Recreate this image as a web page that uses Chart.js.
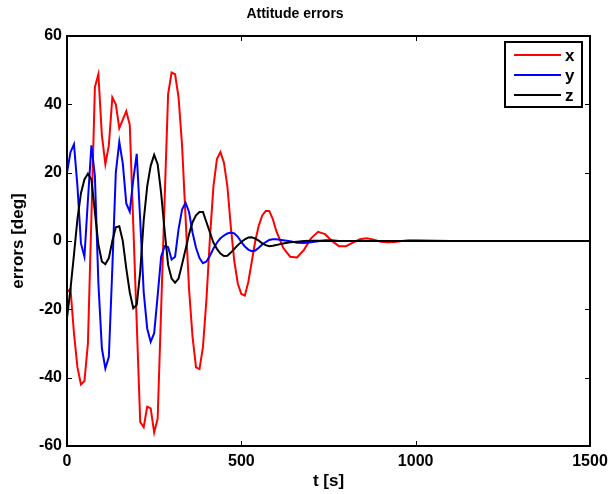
<!DOCTYPE html>
<html>
<head>
<meta charset="utf-8">
<title>Attitude errors</title>
<script src="https://cdn.jsdelivr.net/npm/chart.js@4/dist/chart.umd.min.js"></script>
<style>
  html, body { margin: 0; padding: 0; background: #fff; }
  canvas { display: block; }
</style>
</head>
<body>
<canvas id="chart" width="609" height="494"></canvas>
<script>
// Sample times [s]
const times = [
  0, 10, 20, 30, 40, 50, 60, 70, 80, 90,
  100, 110, 120, 130, 140, 150, 160, 170, 180, 190,
  200, 210, 220, 230, 240, 250, 260, 270, 280, 290,
  300, 310, 320, 330, 340, 350, 360, 370, 380, 390,
  400, 410, 420, 430, 440, 450, 460, 470, 480, 490,
  500, 510, 520, 530, 540, 550, 560, 570, 580, 590,
  600,
  620, 640, 660, 680, 700, 720, 740, 760, 780, 800,
  820, 840, 860, 880, 900, 920, 940, 960, 980, 1000,
  1100, 1200, 1300, 1400, 1500
];

// Attitude error about x [deg]
const errX = [
  -15, -14, -27, -37, -42, -41, -30, 7, 45, 48.8,
  31, 22.5, 28, 42, 40, 33, 35.5, 38, 34, 5,
  -24, -53, -54.5, -48.5, -49, -56, -52, -20, 12, 43,
  49.3, 48.8, 42, 28, 7, -14, -28, -37, -37.5, -31,
  -17, 1, 16, 24, 26, 23, 16, 4, -6, -12.5,
  -15.5, -16, -12, -6, 0, 4.5, 7.5, 8.8, 8.8, 6.5,
  3,
  -2, -4.6, -4.8, -2.5, 0.8, 2.7, 2, 0, -1.5, -1.5,
  -0.5, 0.5, 0.8, 0.4, -0.2, -0.4, -0.3, 0, 0.2, 0.2,
  0, 0, 0, 0, 0
];

// Attitude error about y [deg]
const errY = [
  20, 26, 28.3, 16, -0.7, -4.6, 12, 28, 19, -12.3,
  -31.4, -37.3, -34, -8, 20, 29, 22.7, 11, 8.6, 17.8,
  25.5, 6, -15, -25.6, -29.5, -27, -16, -4.6, -1.5, -1.8,
  -5.4, -4.6, 3.5, 9.2, 11.2, 8.5, 2.5, -2, -5, -6.5,
  -6, -4.3, -2.2, -0.5, 0.8, 1.6, 2.2, 2.5, 2.2, 1.2,
  -0.3, -1.6, -2.5, -3, -2.8, -2, -1, -0.3, 0.3, 0.5,
  0.5,
  0.2, -0.1, -0.5, -0.6, -0.4, -0.1, 0.2, 0.2, 0, 0,
  0, 0, 0, 0, 0, 0, 0, 0, 0, 0,
  0, 0, 0, 0, 0
];

// Attitude error about z [deg]
const errZ = [
  -22.5, -14, -4, 6.5, 14, 18, 19.7, 18, 8.5, -1,
  -6, -6.8, -5, 0, 4, 4.3, 0, -8, -15, -19.7,
  -18.7, -9, 6, 16, 22, 25.2, 22.5, 14, 3, -7,
  -11, -12.2, -11, -6.8, -2.5, 2, 5.5, 7.5, 8.5, 8.5,
  5.5, 2.5, -0.5, -2.3, -3.7, -4.4, -4.3, -3.4, -2.3, -1.2,
  -0.3, 0.5, 1, 1.1, 0.7, 0.1, -0.7, -1.2, -1.5, -1.4,
  -1.2,
  -0.7, -0.4, -0.2, 0, 0.1, 0.1, 0, 0, 0, 0,
  0, 0, 0, 0, 0, 0, 0, 0, 0, 0,
  0, 0, 0, 0, 0
];

const seriesNames = ['x', 'y', 'z'];
const seriesColors = ['#ff0000', '#0000ff', '#000000'];

const xTicks = [0, 500, 1000, 1500];
const yTicks = [-60, -40, -20, 0, 20, 40, 60];

const FONT = '"Liberation Sans", Arial, Helvetica, sans-serif';
Chart.defaults.font.family = FONT;
Chart.defaults.color = '#000';

const toPoints = vals => vals.map((v, i) => ({ x: times[i], y: v }));

// Box frame, inward tick marks and a boxed legend in the upper right corner
const axesBox = {
  id: 'axesBox',
  afterDraw(chart) {
    const { ctx, chartArea: a, scales: { x, y } } = chart;
    ctx.save();
    ctx.strokeStyle = '#000';
    ctx.lineWidth = 1;
    const tl = 5;
    ctx.beginPath();
    xTicks.forEach(v => {
      const px = Math.round(x.getPixelForValue(v)) + 0.5;
      ctx.moveTo(px, a.bottom); ctx.lineTo(px, a.bottom - tl);
      ctx.moveTo(px, a.top); ctx.lineTo(px, a.top + tl);
    });
    yTicks.forEach(v => {
      const py = Math.round(y.getPixelForValue(v)) + 0.5;
      ctx.moveTo(a.left, py); ctx.lineTo(a.left + tl, py);
      ctx.moveTo(a.right, py); ctx.lineTo(a.right - tl, py);
    });
    ctx.stroke();

    ctx.lineWidth = 2;
    ctx.strokeRect(a.left, a.top, a.right - a.left, a.bottom - a.top);

    // legend
    const bw = 77, bh = 65;
    const bx = a.right - 8 - bw, by = a.top + 6;
    ctx.fillStyle = '#fff';
    ctx.fillRect(bx, by, bw, bh);
    ctx.lineWidth = 2;
    ctx.strokeRect(bx, by, bw, bh);
    ctx.font = 'bold 17px ' + FONT;
    ctx.textBaseline = 'middle';
    ctx.textAlign = 'left';
    chart.data.datasets.forEach((ds, i) => {
      const ly = by + 13 + i * 20;
      ctx.strokeStyle = ds.borderColor;
      ctx.lineWidth = 2;
      ctx.beginPath();
      ctx.moveTo(bx + 9, ly);
      ctx.lineTo(bx + 56, ly);
      ctx.stroke();
      ctx.fillStyle = '#000';
      ctx.fillText(ds.label, bx + 60, ly + 1);
    });
    ctx.restore();
  }
};

new Chart(document.getElementById('chart'), {
  type: 'line',
  data: {
    datasets: [errX, errY, errZ].map((vals, i) => ({
      label: seriesNames[i],
      data: toPoints(vals),
      borderColor: seriesColors[i],
      backgroundColor: seriesColors[i],
      borderWidth: 2,
      pointRadius: 0,
      tension: 0,
      fill: false,
      order: 3 - i
    }))
  },
  options: {
    responsive: false,
    animation: false,
    devicePixelRatio: 1,
    layout: { padding: { left: 0, right: 19, top: 0, bottom: 0 } },
    plugins: {
      legend: { display: false },
      tooltip: { enabled: false },
      title: {
        display: true,
        text: 'Attitude errors',
        color: '#000',
        font: { size: 14, weight: 'bold', lineHeight: '16px' },
        padding: { top: 6, bottom: 14 }
      }
    },
    scales: {
      x: {
        type: 'linear',
        min: 0,
        max: 1500,
        afterBuildTicks: s => { s.ticks = xTicks.map(v => ({ value: v })); },
        afterFit: s => { s.height = 48; s.paddingLeft = 0; s.paddingRight = 0; },
        grid: { display: false, drawTicks: false },
        border: { display: false },
        ticks: {
          padding: 6,
          font: { size: 16, weight: 'bold' },
          color: '#000',
          maxRotation: 0,
          callback: v => String(v)
        },
        title: {
          display: true,
          text: 't [s]',
          color: '#000',
          font: { size: 17, weight: 'bold', lineHeight: '18px' },
          padding: { top: 0, bottom: 4 }
        }
      },
      y: {
        type: 'linear',
        min: -60,
        max: 60,
        afterBuildTicks: s => { s.ticks = yTicks.map(v => ({ value: v })); },
        afterFit: s => { s.width = 67; s.paddingTop = 0; s.paddingBottom = 0; },
        grid: { display: false, drawTicks: false },
        border: { display: false },
        ticks: {
          padding: 5,
          font: { size: 16, weight: 'bold' },
          color: '#000',
          callback: v => String(v)
        },
        title: {
          display: true,
          text: 'errors [deg]',
          color: '#000',
          font: { size: 17, weight: 'bold', lineHeight: '18px' },
          padding: { top: 9, bottom: 0 }
        }
      }
    }
  },
  plugins: [axesBox]
});
</script>
</body>
</html>
